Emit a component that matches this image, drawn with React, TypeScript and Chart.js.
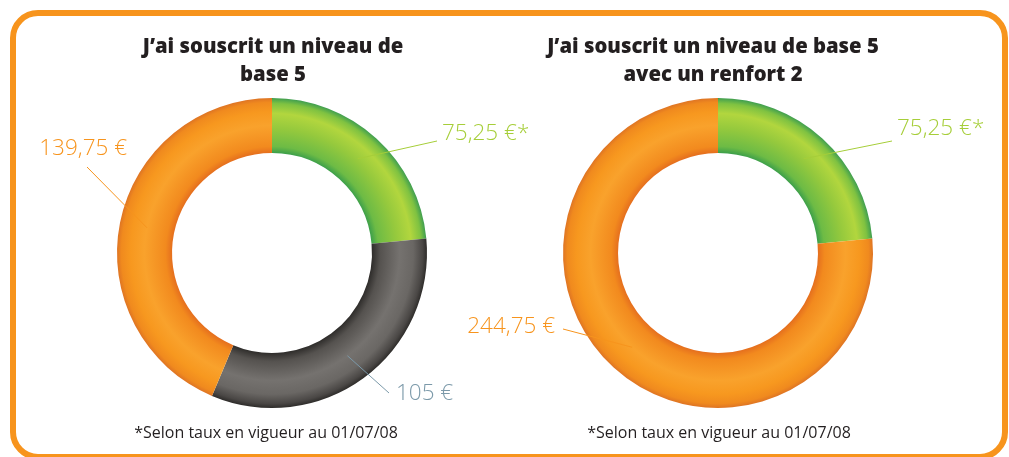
import React, { useEffect, useRef } from "react";
import { Chart, registerables } from "chart.js";
Chart.register(...registerables);

// ---------- data ----------
const footnote = "*Selon taux en vigueur au 01/07/08";

const leftTitle = ["J’ai souscrit un niveau de", "base 5"];
const leftCategories = ["Part verte", "Part grise", "Part orange"];
const leftValues = [75.25, 105, 139.75];
const leftValueLabels = ["75,25 €*", "105 €", "139,75 €"];

const rightTitle = ["J’ai souscrit un niveau de base 5", "avec un renfort 2"];
const rightCategories = ["Part verte", "Part orange"];
const rightValues = [75.25, 244.75];
const rightValueLabels = ["75,25 €*", "244,75 €"];

// ---------- styles ----------
const W = 1009;
const H = 457;
const CUTOUT = 0.645;
const ORANGE_TEXT = "#F7941D";
const GREEN_TEXT = "#A6CE39";
const GREY_TEXT = "#7B99A9";
const TITLE_FONT = "800 20.3px 'Open Sans'";
const LABEL_FONT = "300 22.5px 'Open Sans'";
const NOTE_FONT = "400 16px 'Open Sans'";

type Stops = [number, string][];
const GREEN_STOPS: Stops = [
  [0, "#3C9F4A"], [0.12, "#6DBB45"], [0.45, "#95C93D"], [0.72, "#B2D63E"], [0.9, "#7FC241"], [1, "#3F9E50"],
];
const GREY_STOPS: Stops = [
  [0, "#2F2D2B"], [0.15, "#55524F"], [0.5, "#75726F"], [0.75, "#6A6764"], [0.92, "#4A4745"], [1, "#2E2C2A"],
];
const ORANGE_STOPS: Stops = [
  [0, "#E56F1E"], [0.12, "#F28A1E"], [0.5, "#F9A22C"], [0.75, "#F7981F"], [0.92, "#F08A1E"], [1, "#DE7424"],
];

function ringGradient(chart: any, stops: Stops) {
  const a = chart.chartArea;
  if (!a) return stops[2][1];
  const cx = (a.left + a.right) / 2;
  const cy = (a.top + a.bottom) / 2;
  const R = Math.min(a.width, a.height) / 2;
  const r = R * CUTOUT;
  const g = chart.ctx.createRadialGradient(cx, cy, r, cx, cy, R);
  stops.forEach(([o, c]) => g.addColorStop(o, c));
  return g;
}

const donutTextPlugin = {
  id: "donutText",
  afterDraw(chart: any, _args: any, opts: any) {
    const ctx = chart.ctx as CanvasRenderingContext2D;
    const meta = chart.getDatasetMeta(0);
    ctx.save();
    ctx.font = TITLE_FONT;
    ctx.fillStyle = "#231F20";
    ctx.textAlign = "center";
    ctx.textBaseline = "alphabetic";
    (opts.title as string[]).forEach((line, i) => ctx.fillText(line, opts.titleX, opts.titleY[i]));
    ctx.font = NOTE_FONT;
    ctx.fillText(opts.note, opts.noteX, opts.noteY);
    (opts.labels as any[]).forEach((lb, i) => {
      const arc = meta.data[i];
      if (!arc) return;
      const p = arc.getProps(["x", "y", "startAngle", "endAngle", "innerRadius", "outerRadius"], true);
      const mid = (p.startAngle + p.endAngle) / 2;
      const rr = (p.innerRadius + p.outerRadius) / 2;
      const ex = p.x + Math.cos(mid) * rr;
      const ey = p.y + Math.sin(mid) * rr;
      ctx.strokeStyle = lb.color;
      ctx.lineWidth = 1;
      ctx.beginPath();
      ctx.moveTo(lb.fromX, lb.fromY);
      ctx.lineTo(ex, ey);
      ctx.stroke();
      ctx.font = LABEL_FONT;
      ctx.fillStyle = lb.color;
      ctx.textAlign = lb.align;
      ctx.fillText(opts.texts[i], lb.x, lb.y);
    });
    ctx.restore();
  },
};

function makeConfig(categories: string[], values: number[], stops: Stops[], padding: any, text: any): any {
  return {
    type: "doughnut",
    data: {
      labels: categories,
      datasets: [
        {
          data: values,
          backgroundColor: (c: any) => ringGradient(c.chart, stops[c.dataIndex]),
          borderWidth: 0,
          hoverOffset: 0,
          offset: 0,
        },
      ],
    },
    options: {
      responsive: false,
      animation: false,
      events: [],
      cutout: CUTOUT * 100 + "%",
      layout: { padding },
      plugins: {
        legend: { display: false },
        tooltip: { enabled: false },
        title: { display: false },
        donutText: text,
      },
    },
    plugins: [donutTextPlugin],
  };
}

function DonutCanvas({ config }: { config: any }) {
  const ref = useRef<HTMLCanvasElement | null>(null);
  useEffect(() => {
    if (!ref.current) return;
    const chart = new Chart(ref.current, config);
    return () => chart.destroy();
  }, [config]);
  return (
    <canvas
      ref={ref}
      width={W}
      height={H}
      style={{ position: "absolute", left: 0, top: 0, width: W, height: H }}
    />
  );
}

const leftConfig = makeConfig(
  leftCategories,
  leftValues,
  [GREEN_STOPS, GREY_STOPS, ORANGE_STOPS],
  { left: 117, right: W - 427, top: 98, bottom: H - 408 },
  {
    title: leftTitle,
    titleX: 273,
    titleY: [53, 81],
    note: footnote,
    noteX: 266,
    noteY: 438,
    texts: leftValueLabels,
    labels: [
      { color: GREEN_TEXT, x: 442, y: 140, align: "left", fromX: 437, fromY: 141 },
      { color: GREY_TEXT, x: 396, y: 400, align: "left", fromX: 389, fromY: 393 },
      { color: ORANGE_TEXT, x: 127, y: 155, align: "right", fromX: 87, fromY: 167 },
    ],
  }
);

const rightConfig = makeConfig(
  rightCategories,
  rightValues,
  [GREEN_STOPS, ORANGE_STOPS],
  { left: 563, right: W - 873, top: 98, bottom: H - 408 },
  {
    title: rightTitle,
    titleX: 713,
    titleY: [53, 81],
    note: footnote,
    noteX: 719,
    noteY: 438,
    texts: rightValueLabels,
    labels: [
      { color: GREEN_TEXT, x: 897, y: 135, align: "left", fromX: 892, fromY: 141 },
      { color: ORANGE_TEXT, x: 555, y: 333, align: "right", fromX: 563, fromY: 329 },
    ],
  }
);

export default function App() {
  return (
    <div
      style={{
        position: "fixed",
        left: 0,
        top: 0,
        width: W,
        height: H,
        overflow: "hidden",
        background: "#FFFFFF",
      }}
    >
      <div
        style={{
          position: "absolute",
          left: 10,
          top: 10,
          width: 998,
          height: 450,
          boxSizing: "border-box",
          border: "6px solid #F7941D",
          borderRadius: 28,
        }}
      />
      <DonutCanvas config={leftConfig} />
      <DonutCanvas config={rightConfig} />
    </div>
  );
}
